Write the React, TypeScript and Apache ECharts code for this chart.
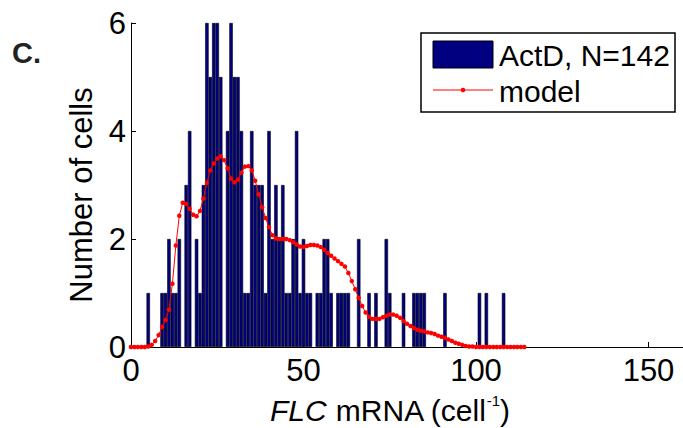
import React, { useEffect, useRef } from "react";
import * as echarts from "echarts";

// Histogram (bin centre -> number of cells), only non-empty bins
const binCenters = [
  5, 9, 10, 11, 12, 13, 14, 16, 17, 19, 20, 21, 22, 23, 24, 25, 26,
  28, 29, 30, 31, 32, 33, 34, 35, 36, 37, 38, 39, 40, 41, 42, 43, 44, 45, 46, 47, 48, 49, 50, 51, 52,
  54, 55, 56, 57, 58, 60, 61, 62, 63, 66, 69, 71, 74, 75, 79, 82, 83, 84, 85, 91, 101, 103, 108,
];
const counts = [
  1, 1, 1, 2, 1, 1, 2, 3, 4, 2, 1, 3, 6, 5, 6, 6, 5,
  4, 6, 5, 5, 4, 1, 1, 4, 3, 3, 3, 1, 4, 2, 3, 2, 3, 1, 1, 2, 4, 1, 2, 1, 1,
  1, 1, 2, 2, 1, 1, 1, 1, 1, 2, 1, 1, 2, 1, 1, 1, 1, 1, 1, 1, 1, 1, 1,
];

// Model curve, one value per mRNA count 0..114
const modelValues = [
  0, 0, 0, 0, 0,
  0.01, 0.04, 0.11, 0.22, 0.37,
  0.5, 0.69, 1.17, 1.88, 2.43,
  2.67, 2.65, 2.56, 2.45, 2.42,
  2.52, 2.75, 3.04, 3.27, 3.4,
  3.49, 3.53, 3.46, 3.31, 3.12,
  3.05, 3.1, 3.23, 3.34, 3.35,
  3.27, 3.08, 2.83, 2.59, 2.39,
  2.22, 2.07, 2.01, 2.0, 2.0,
  2.0, 1.98, 1.94, 1.9, 1.86,
  1.85, 1.87, 1.89, 1.89, 1.88,
  1.85, 1.8, 1.74, 1.69, 1.64,
  1.59, 1.54, 1.49, 1.37, 1.22,
  1.07, 0.91, 0.76, 0.64, 0.56,
  0.52, 0.52, 0.52, 0.55, 0.58,
  0.6, 0.6, 0.58, 0.54, 0.48,
  0.43, 0.39, 0.35, 0.32, 0.3,
  0.29, 0.27, 0.26, 0.24, 0.21,
  0.19, 0.17, 0.14, 0.11, 0.08,
  0.06, 0.04, 0.02, 0.01, 0.01,
  0, 0, 0, 0, 0,
  0, 0, 0, 0, 0,
  0, 0, 0, 0, 0,
];

const xMin = 0;
const xMax = 160;
const xInterval = 50;
const yMin = 0;
const yMax = 6;
const yInterval = 2;
const legendLabels = ["ActD, N=142", "model"];
const panelLabel = "C.";
const yName = "Number of cells";

const FONT = '"Liberation Sans", Arial, Helvetica, sans-serif';
const NAVY = "#000080";
const RED = "#ff0000";

export default function App() {
  const ref = useRef<HTMLDivElement>(null);
  useEffect(() => {
    const chart = echarts.init(ref.current!, null, { renderer: "svg" });
    chart.setOption({
      animation: false,
      backgroundColor: "#ffffff",
      grid: { left: 131, top: 23, width: 552, height: 324, containLabel: false },
      xAxis: {
        type: "value",
        min: xMin,
        max: xMax,
        interval: xInterval,
        axisLine: { show: true, lineStyle: { color: "#000", width: 1 } },
        axisTick: { show: true, inside: true, length: 5, lineStyle: { color: "#000" } },
        axisLabel: {
          fontSize: 31,
          color: "#000",
          fontFamily: FONT,
          margin: 8,
          showMaxLabel: false,
        },
        splitLine: { show: false },
      },
      yAxis: {
        type: "value",
        min: yMin,
        max: yMax,
        interval: yInterval,
        axisLine: { show: true, lineStyle: { color: "#000", width: 1 } },
        axisTick: { show: true, inside: true, length: 5, lineStyle: { color: "#000" } },
        axisLabel: { fontSize: 31, color: "#000", fontFamily: FONT, margin: 5 },
        splitLine: { show: false },
      },
      series: [
        {
          type: "bar",
          name: legendLabels[0],
          data: binCenters.map((b, i) => [b, counts[i]]),
          barWidth: 3.45,
          itemStyle: { color: NAVY, borderColor: "#000", borderWidth: 0.6 },
          z: 2,
        },
        {
          type: "line",
          name: legendLabels[1],
          data: modelValues.map((v, i) => [i, v]),
          symbol: "circle",
          symbolSize: 4.5,
          showSymbol: true,
          showAllSymbol: true,
          lineStyle: { color: RED, width: 1 },
          itemStyle: { color: RED },
          z: 3,
        },
      ],
      graphic: [
        {
          type: "text",
          x: 12,
          y: 53,
          style: {
            text: panelLabel,
            fontSize: 29,
            fontWeight: "bold",
            fontFamily: FONT,
            fill: "#222",
            verticalAlign: "middle",
          },
        },
        {
          type: "text",
          x: 81,
          y: 195,
          rotation: Math.PI / 2,
          style: {
            text: yName,
            fontSize: 31,
            fontFamily: FONT,
            fill: "#000",
            align: "center",
            verticalAlign: "middle",
          },
        },
        {
          type: "text",
          x: 390,
          y: 410,
          style: {
            text: "{i|FLC}{n| mRNA (cell}{s|-1}{n|)}",
            align: "center",
            verticalAlign: "middle",
            fill: "#000",
            rich: {
              i: { fontSize: 30, fontStyle: "italic", fontFamily: FONT, fill: "#000", lineHeight: 34 },
              n: { fontSize: 30, fontFamily: FONT, fill: "#000", lineHeight: 34 },
              s: { fontSize: 15, fontFamily: FONT, fill: "#000", lineHeight: 34, verticalAlign: "top" },
            },
          },
        },
        {
          type: "group",
          z: 100,
          children: [
            {
              type: "rect",
              shape: { x: 421, y: 33, width: 254, height: 79 },
              style: { fill: "#fff", stroke: "#000", lineWidth: 1.5 },
            },
            {
              type: "rect",
              shape: { x: 433, y: 41, width: 60, height: 27 },
              style: { fill: NAVY, stroke: "#000", lineWidth: 1 },
            },
            {
              type: "text",
              x: 499,
              y: 55,
              style: {
                text: legendLabels[0],
                fontSize: 30,
                fontFamily: FONT,
                fill: "#000",
                verticalAlign: "middle",
              },
            },
            {
              type: "line",
              shape: { x1: 433, y1: 90, x2: 493, y2: 90 },
              style: { stroke: RED, lineWidth: 1 },
            },
            {
              type: "circle",
              shape: { cx: 463, cy: 90, r: 2.3 },
              style: { fill: RED },
            },
            {
              type: "text",
              x: 499,
              y: 91,
              style: {
                text: legendLabels[1],
                fontSize: 30,
                fontFamily: FONT,
                fill: "#000",
                verticalAlign: "middle",
              },
            },
          ],
        },
      ],
    });
    return () => chart.dispose();
  }, []);
  return (
    <div
      ref={ref}
      style={{ position: "fixed", left: 0, top: 0, width: 683, height: 428 }}
    />
  );
}
